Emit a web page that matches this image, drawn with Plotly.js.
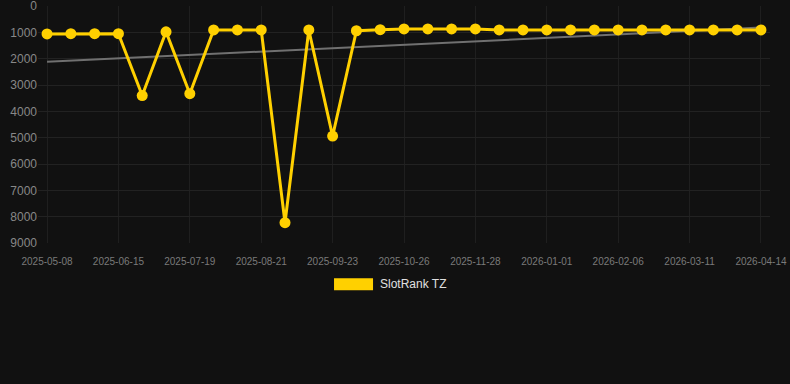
<!DOCTYPE html>
<html>
<head>
<meta charset="utf-8">
<script src="https://cdn.plot.ly/plotly-3.0.1.min.js"></script>
<style>
  html, body { margin: 0; padding: 0; background: #111111; }
  #chart { width: 790px; height: 384px; }
</style>
</head>
<body>
<div id="chart"></div>
<script>
// Categories (dates, evenly spaced on the chart)
const dates = [
  "2025-05-08","2025-05-21","2025-06-02","2025-06-15","2025-06-26","2025-07-08",
  "2025-07-19","2025-07-30","2025-08-10","2025-08-21","2025-09-01","2025-09-12",
  "2025-09-23","2025-10-04","2025-10-15","2025-10-26","2025-11-06","2025-11-17",
  "2025-11-28","2025-12-10","2025-12-21","2026-01-01","2026-01-13","2026-01-25",
  "2026-02-06","2026-02-17","2026-02-28","2026-03-11","2026-03-22","2026-04-02",
  "2026-04-14"
];
// SlotRank TZ rank values
const rankValues = [
  1060, 1050, 1050, 1050, 3400, 980,
  3330, 910, 910, 910, 8230, 910,
  4940, 940, 900, 870, 870, 870,
  870, 910, 910, 910, 910, 910,
  910, 910, 910, 910, 910, 910,
  910
];
// Trend line endpoints (first and last category)
const trendDates = ["2025-05-08", "2026-04-14"];
const trendValues = [2120, 820];
// Tick labels shown on x axis
const xTickLabels = [
  "2025-05-08","2025-06-15","2025-07-19","2025-08-21","2025-09-23","2025-10-26",
  "2025-11-28","2026-01-01","2026-02-06","2026-03-11","2026-04-14"
];
const yTickVals = [0,1000,2000,3000,4000,5000,6000,7000,8000,9000];
const seriesName = "SlotRank TZ";

const gold = "#FFD000";

const traces = [
  {
    x: trendDates, y: trendValues, type: "scatter", mode: "lines",
    line: { color: "#707070", width: 2 }, hoverinfo: "skip", showlegend: false
  },
  {
    x: dates, y: rankValues, type: "scatter", mode: "lines+markers",
    name: seriesName,
    line: { color: gold, width: 3 },
    marker: { color: gold, size: 11 },
    showlegend: false
  }
];

const layout = {
  width: 790, height: 384,
  paper_bgcolor: "#111111", plot_bgcolor: "#111111",
  margin: { l: 38, r: 20, t: 6, b: 141 },
  font: { family: "Liberation Sans, Arial, sans-serif", color: "#888888" },
  xaxis: {
    type: "category",
    categoryorder: "array", categoryarray: dates,
    range: [-0.38, 30.38],
    tickmode: "array", tickvals: xTickLabels, ticktext: xTickLabels,
    tickfont: { size: 10, color: "#7a7a7a" },
    showgrid: true, gridcolor: "#1f1f1f", gridwidth: 1,
    zeroline: false, showline: false,
    ticks: "outside", ticklen: 9, tickcolor: "rgba(0,0,0,0)"
  },
  yaxis: {
    range: [9000, 0],
    tickmode: "array", tickvals: yTickVals,
    ticklabeloverflow: "allow",
    tickfont: { size: 12, color: "#888888" },
    showgrid: true, gridcolor: "#222222", gridwidth: 1,
    zeroline: false, showline: false, ticks: ""
  },
  shapes: [
    {
      type: "rect", xref: "paper", yref: "paper",
      x0: 0.4044, x1: 0.4577, y0: -0.149, y1: -0.1998,
      fillcolor: gold, line: { width: 0 }
    }
  ],
  annotations: [
    {
      xref: "paper", yref: "paper", x: 0.4645, y: -0.1745,
      xanchor: "left", yanchor: "middle", showarrow: false,
      text: seriesName, font: { size: 12, color: "#e0e0e0" }
    }
  ],
  showlegend: false
};

Plotly.newPlot("chart", traces, layout, { displayModeBar: false, staticPlot: true });
</script>
</body>
</html>
